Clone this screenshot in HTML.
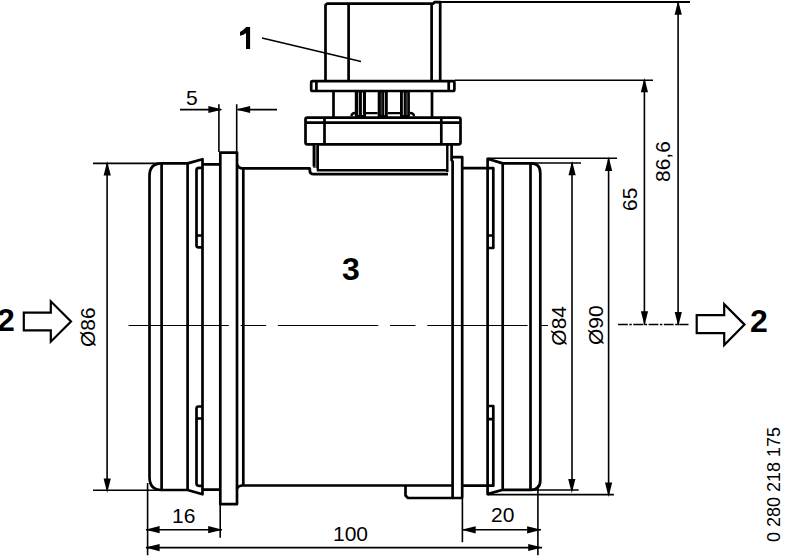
<!DOCTYPE html>
<html><head><meta charset="utf-8"><style>
html,body{margin:0;padding:0;background:#fff;}
svg{display:block;}
text{font-family:"Liberation Sans",sans-serif;fill:#000;}
</style></head><body>
<svg width="788" height="558" viewBox="0 0 788 558">
<defs>
<path id="ah" d="M0,0 L-3.6,14.3 L3.6,14.3 Z"/>
</defs>
<g fill="none" stroke="#000" stroke-width="2.7" stroke-linejoin="round">
<!-- connector top body -->
<path d="M325.5,81 V5 L327,3.7 H433 L434.5,2.2 H440.2 V81"/>
<path d="M348.6,3.7 V81 M431.6,3.7 V81"/>
<!-- connector plate -->
<rect x="311.2" y="81.2" width="143.2" height="9.8" rx="1.5"/>
<path d="M316.4,81.2 V91 M448.7,81.2 V91"/>
<!-- below plate -->
<path d="M333.5,91 V117.6 M432,91 V117.6"/>
<g stroke="none">
<rect x="354.8" y="91" width="11.2" height="26" fill="#000"/>
<rect x="377.7" y="91" width="10.1" height="26" fill="#000"/>
<rect x="400" y="91" width="9.9" height="26" fill="#000"/>
<rect x="358" y="92.5" width="1" height="22.5" fill="#aaa"/>
<rect x="361.9" y="92.5" width="1" height="22.5" fill="#fff"/>
<rect x="380.5" y="92.5" width="2" height="22.5" fill="#333"/>
<rect x="384" y="92.5" width="1" height="22.5" fill="#aaa"/>
<rect x="402.8" y="92.5" width="1.2" height="22.5" fill="#aaa"/>
<rect x="405.6" y="92.5" width="2.5" height="22.5" fill="#333"/>
</g>
<path d="M366,113.2 H377.7 M387.8,113.2 H400 M351.5,116.5 Q351.5,113 355,113 M409.9,113 Q414,113 414,116.5" stroke-width="2.3"/>
<!-- housing -->
<rect x="305.5" y="117.6" width="155" height="26.8" rx="1.8"/>
<path d="M305.5,122.7 H460.5 M324.5,117.6 V144.4 M441.3,117.6 V144.4"/>
<!-- neck -->
<path d="M315.8,145 V168" stroke="#666" stroke-width="5.6"/>
<path d="M313.8,145 V166.5 M317.8,145 V170.2 H447.3 M447.3,145 V172" stroke-width="2.4"/>
<path d="M448,174.2 H314 Q309.8,174.2 309.8,170.5 V168.3" stroke-width="2.8"/>
<path d="M451.6,145 V160 L452.6,161.5 V498 H460.8 Q462.2,498 462.2,496.5 V157.1 H451.6"/>
<!-- left flange -->
<rect x="220.3" y="152.6" width="16.7" height="351.6"/>
<!-- tube -->
<path d="M243.3,168.4 V486"/>
<path d="M237,164.5 Q238.5,168.4 242.5,168.4 H310.5"/>
<path d="M237,488.5 Q238.5,485.5 242.5,485.5 H452.6"/>
<path d="M462.3,168.2 H493.3 V248 H487.6 M462.3,485.7 H493.3 V406 H487.6"/>
<path d="M487.6,235.5 H493.3 M487.6,419.2 H493.3"/>
<!-- bottom tab -->
<path d="M405.5,486 V495.5 L408,498 H452.6"/>
<!-- left ring -->
<path d="M149.5,477 V176 Q149.5,163.4 161.6,163.4 H187.6 L202.5,159.2 V494.3 L187.6,490 H161.6 Q149.5,490 149.5,477 Z"/>
<path d="M161.6,163.4 V490 M187.6,163.4 V490"/>
<path d="M202.5,164.4 H220.3 M202.5,489.7 H220.3"/>
<path d="M202,167.8 H199 Q196.5,167.8 196.5,170 V245.5 Q196.5,247.3 198.5,247.3 H202 M196.5,235.5 H202"/>
<path d="M202,485.8 H199 Q196.5,485.8 196.5,483.6 V408.5 Q196.5,406.5 198.5,406.5 H202 M196.5,418.5 H202"/>
<!-- right ring -->
<path d="M487.6,158.8 L502.7,163.4 H531 Q540.3,163.4 540.3,173 V480 Q540.3,489.8 531,489.8 H502.7 L487.6,494.1 Z"/>
<path d="M502.7,163.4 V489.8 M530.5,163.4 V489.8"/>
</g>
<!-- thin dimension lines -->
<g fill="none" stroke="#000" stroke-width="1.6">
<!-- 86,6 ext -->
<path d="M434.5,2 H690" stroke-width="1.8"/>
<path d="M454.4,80.2 H653"/>
<path d="M678.1,2 V325 M644.4,80.2 V325"/>
<!-- leader 1 -->
<path d="M262,38 L361,61.5"/>
<!-- 5 -->
<path d="M218.9,104.3 V152 M236.7,104.3 V152 M180,109.6 H221 M238,109.6 H277"/>
<!-- O86 -->
<path d="M93,163.4 H160 M93,490.2 H160 M107.1,163.4 V490.2"/>
<!-- O84 -->
<path d="M531,163 H581 M531,490 H578.7 M572,163 V490"/>
<!-- O90 -->
<path d="M488,158.2 H617 M488,494.6 H613.9 M608.6,158.2 V494.6"/>
<!-- 16 / 20 / 100 -->
<path d="M147.6,483 V555.3 M220.2,504 V537.8 M462.4,497 V542.3 M537.9,485 V555.3"/>
<path d="M146,529.7 H222 M462,529.8 H541 M146,547.6 H542"/>
<!-- centerline -->
<path d="M128.5,325.5 H548" stroke-dasharray="100.3,11.8,25.5,11.8" stroke-width="1.2"/>
<path d="M618,324.5 H688.5" stroke-dasharray="9.8,1.5,2.5,1.5" stroke-width="1.5"/>
</g>
<g fill="#000">
<use href="#ah" transform="translate(107.2,161.3)"/>
<use href="#ah" transform="translate(107.2,492.9) rotate(180)"/>
<use href="#ah" transform="translate(572.1,161)"/>
<use href="#ah" transform="translate(571.8,493.3) rotate(180)"/>
<use href="#ah" transform="translate(608.6,156.8)"/>
<use href="#ah" transform="translate(608.6,496.9) rotate(180)"/>
<use href="#ah" transform="translate(644.4,77.9)"/>
<use href="#ah" transform="translate(644.5,325.5) rotate(180)"/>
<use href="#ah" transform="translate(678.2,0.4)"/>
<use href="#ah" transform="translate(678.3,326.3) rotate(180)"/>
<use href="#ah" transform="translate(222.7,109.5) rotate(90)"/>
<use href="#ah" transform="translate(235.8,109.5) rotate(-90)"/>
<use href="#ah" transform="translate(145.3,529.7) rotate(-90)"/>
<use href="#ah" transform="translate(222.5,529.7) rotate(90)"/>
<use href="#ah" transform="translate(461.4,529.8) rotate(-90)"/>
<use href="#ah" transform="translate(541.4,529.8) rotate(90)"/>
<use href="#ah" transform="translate(145.3,547.6) rotate(-90)"/>
<use href="#ah" transform="translate(542.5,547.5) rotate(90)"/>
</g>
<!-- hollow arrows -->
<g fill="#fff" stroke="#000" stroke-width="2.2">
<path d="M23.8,312.7 H50.8 V301.3 L71,321.5 L50.8,341.7 V330.3 H23.8 Z"/>
<path d="M696.7,315.2 H724.2 V304.2 L744.5,324.6 L724.2,345 V333.2 H696.7 Z"/>
</g>
<!-- texts -->
<g id="txt">
<path d="M250.1,27 V49 H246 V33 L243.5,34.7 L240,35.8 V32 L243,30 L246.3,27 Z" fill="#000"/>
<text x="342" y="280" font-size="32" font-weight="bold">3</text>
<text x="-3" y="331" font-size="32" font-weight="bold">2</text>
<text x="750" y="332" font-size="32" font-weight="bold">2</text>
<text x="186" y="104.7" font-size="21">5</text>
<text x="172" y="522.8" font-size="21">16</text>
<text x="491" y="521.7" font-size="21">20</text>
<text x="333" y="540.7" font-size="21">100</text>
<text transform="translate(95,347) rotate(-90)" font-size="21">Ø86</text>
<text transform="translate(566,345.7) rotate(-90)" font-size="21">Ø84</text>
<text transform="translate(603,345) rotate(-90)" font-size="21">Ø90</text>
<text transform="translate(637.2,211) rotate(-90)" font-size="21">65</text>
<text transform="translate(670.2,182) rotate(-90)" font-size="21">86,6</text>
<text transform="translate(780,542) rotate(-90)" font-size="18">0 280 218 175</text>
</g>
</svg>
</body></html>
